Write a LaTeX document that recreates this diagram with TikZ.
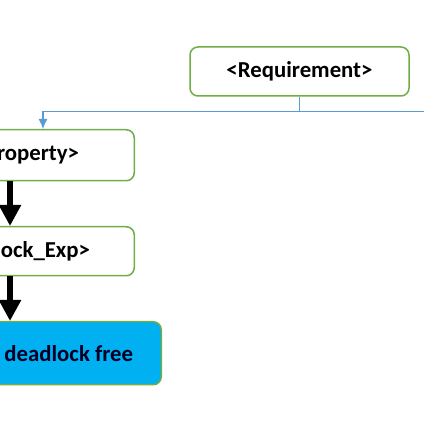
\documentclass[tikz,border=0pt]{standalone}
\usepackage{fontspec}
\setmainfont{Carlito}
\usepackage{tikz}
\usetikzlibrary{arrows.meta,positioning}
\definecolor{boxgreen}{HTML}{70AD47}
\definecolor{linkblue}{HTML}{5B9BD5}
\definecolor{freeblue}{HTML}{00B0F0}

\begin{document}
\begin{tikzpicture}[x=1pt, y=1pt,
      box/.style={draw=boxgreen, line width=1.5pt, rounded corners=8pt, inner sep=0pt,
        font=\fontsize{22.8}{27}\selectfont\bfseries},
      h/.style={minimum height=49pt},
      tallh/.style={minimum height=63pt},
      link/.style={draw=linkblue, line width=1.2pt},
      flow/.style={line width=6.5pt, -{Triangle[width=21pt,length=21pt]}}]
    \useasboundingbox (0,0) rectangle (424,424);
    \clip (0,0) rectangle (424,424);
    \node[box, h, minimum width=219pt] (req) at (299.5,352.5) {<Requirement>};
    \node[box, minimum height=51pt, minimum width=216pt, anchor=north east] (prop) at (135,295) {<Property>};
    \node[box, h, minimum width=244pt, anchor=north east] (dl) at (135,198) {<Deadlock\_Exp>};
    \node[box, tallh, minimum width=185pt, fill=freeblue, text=black!85!blue, anchor=north east] (free) at (162,103) {deadlock free};

    % blue bus from the requirement
    \coordinate (busR) at (424,312.5);
    \coordinate (busL) at (43,312.5);
    \draw[link] (req.south) -- (req.south |- busL);
    \draw[link, -{Latex[width=9pt,length=10pt]}] (busR) -- (busL) -- (busL |- prop.north);

    % thick arrows down the left column
    \coordinate (col) at (10,0);
    \draw[flow] (prop.south -| col) -- (dl.north -| col);
    \draw[flow] (dl.south -| col) -- (free.north -| col);
  \end{tikzpicture}
\end{document}
